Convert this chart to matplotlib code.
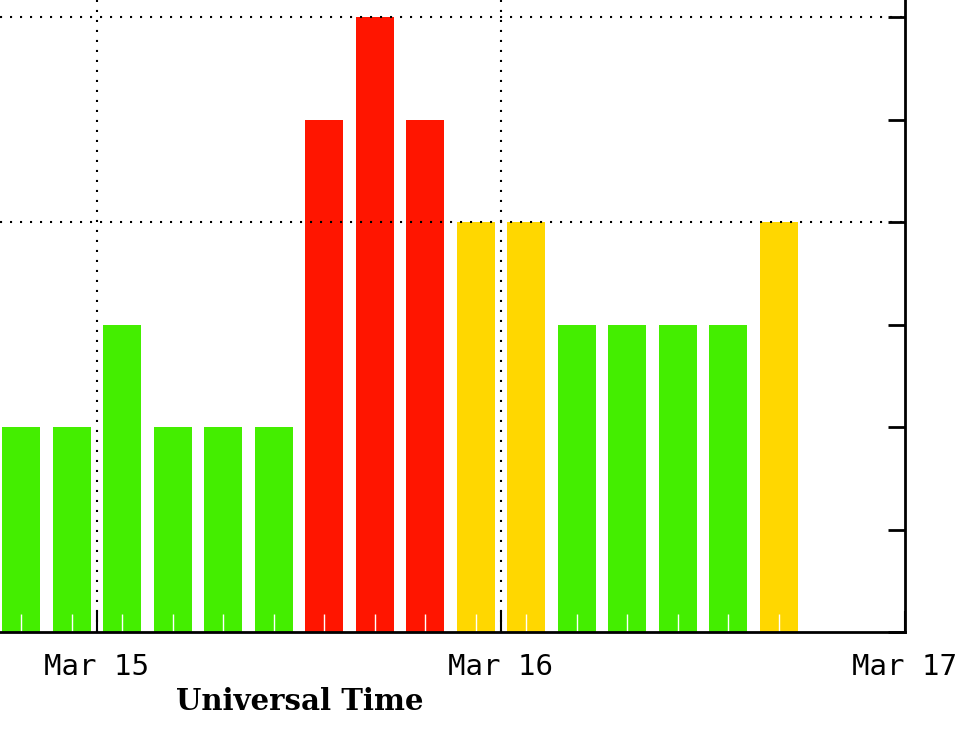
import datetime as dt
import matplotlib
matplotlib.use("Agg")
import matplotlib.pyplot as plt

# Kp index, 3-hour intervals starting Mar 14 18:00 UT
start = dt.datetime(2024, 3, 14, 18, 0)
kp_values = [2, 2, 3, 2, 2, 2, 5, 6, 5, 4, 4, 3, 3, 3, 3, 4]
bar_colors = ["#44ee00"] * 6 + ["#ff1500"] * 3 + ["#ffd700"] * 2 + ["#44ee00"] * 4 + ["#ffd700"]
day_ticks = [dt.datetime(2024, 3, 15), dt.datetime(2024, 3, 16), dt.datetime(2024, 3, 17)]
day_labels = ["Mar 15", "Mar 16", "Mar 17"]

centers = [start + dt.timedelta(hours=3 * i + 1.5) for i in range(len(kp_values))]

fig = plt.figure(figsize=(9.6, 7.3), dpi=100)
ax = fig.add_axes([0.0, 98 / 730, 905 / 960, 632 / 730])

ax.bar(centers, kp_values, width=2.25 / 24, color=bar_colors, zorder=1)

left = day_ticks[0] - dt.timedelta(days=97 / 404)
ax.set_xlim(left, day_ticks[2])
ax.set_ylim(0, 6 + 17 / 102.5)

dots = (0, (1, 3.8))
for y in [4, 6]:
    ax.axhline(y, color="black", lw=1.5, linestyle=dots, zorder=2)
for d in day_ticks[:2]:
    ax.axvline(d, color="black", lw=1.5, linestyle=dots, zorder=2)

ax.spines["left"].set_visible(False)
ax.spines["top"].set_visible(False)
ax.spines["right"].set_linewidth(2)
ax.spines["bottom"].set_linewidth(2)

ax.set_xticks(day_ticks)
ax.set_xticklabels(day_labels, fontfamily="DejaVu Sans Mono", fontsize=21)
ax.set_xticks(centers, minor=True)
ax.tick_params(axis="x", which="major", direction="in", length=15, width=1.5, pad=15)
ax.tick_params(axis="x", which="minor", direction="in", length=13, width=1, color="white")

ax.yaxis.tick_right()
ax.set_yticks(range(0, 7))
ax.tick_params(axis="y", direction="in", length=12, width=2, labelright=False)

fig.text(300 / 960, 1 - 701 / 730, "Universal Time", ha="center", va="center",
         fontfamily="DejaVu Serif", fontweight="bold", fontsize=21)

fig.savefig("out.png", dpi=100)
